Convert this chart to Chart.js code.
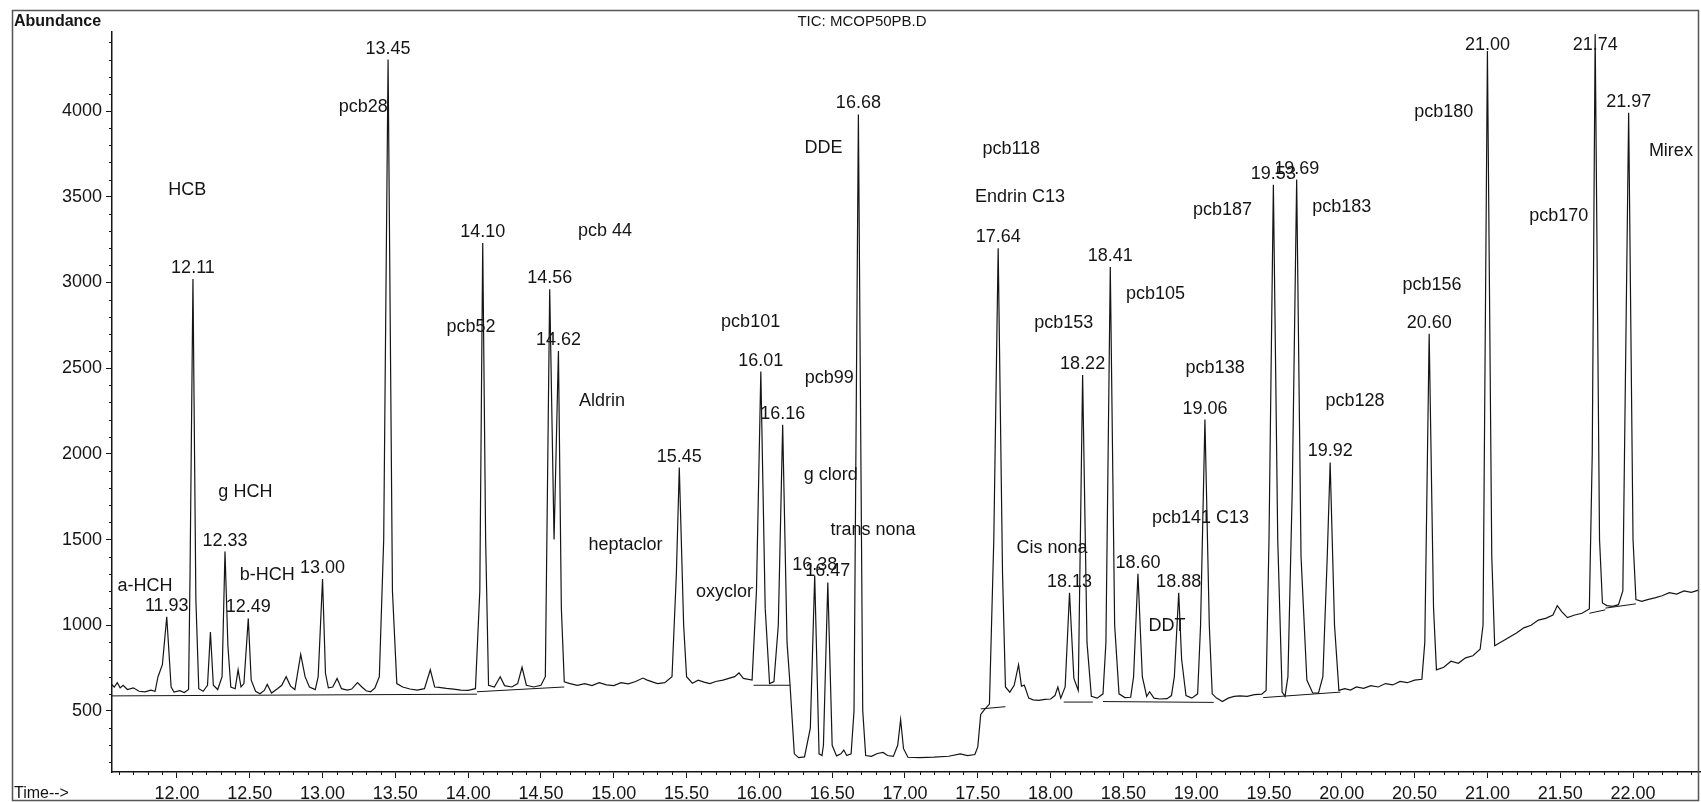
<!DOCTYPE html>
<html>
<head>
<meta charset="utf-8">
<script src="https://cdn.jsdelivr.net/npm/chart.js@4.4.1/dist/chart.umd.min.js"></script>
<style>
html, body { margin: 0; padding: 0; background: #fff; }
#wrap { width: 1701px; height: 802px; }
</style>
</head>
<body>
<div id="wrap"><canvas id="tic"></canvas></div>
<script>
// retention time (min) and abundance of the TIC trace
const times = [
  11.55,11.57,11.59,11.61,11.63,11.66,11.70,11.74,11.78,11.82,
  11.85,11.87,11.90,11.93,11.96,11.98,12.02,12.05,12.08,12.09,
  12.11,12.13,12.15,12.18,12.21,12.23,12.25,12.28,12.31,12.33,
  12.35,12.37,12.40,12.42,12.44,12.46,12.49,12.51,12.54,12.57,
  12.60,12.62,12.65,12.69,12.72,12.75,12.78,12.81,12.85,12.88,
  12.91,12.95,12.97,13.00,13.02,13.04,13.07,13.10,13.13,13.17,
  13.20,13.24,13.27,13.30,13.33,13.36,13.39,13.42,13.45,13.48,
  13.51,13.55,13.60,13.65,13.70,13.74,13.77,13.80,13.85,13.90,
  13.95,14.00,14.05,14.08,14.10,14.12,14.14,14.18,14.22,14.25,
  14.30,14.34,14.37,14.40,14.45,14.50,14.53,14.56,14.59,14.62,
  14.64,14.66,14.70,14.75,14.80,14.85,14.90,14.95,15.00,15.05,
  15.10,15.15,15.20,15.23,15.27,15.30,15.35,15.40,15.43,15.45,
  15.48,15.50,15.54,15.58,15.62,15.66,15.70,15.75,15.79,15.83,
  15.86,15.89,15.95,15.98,16.01,16.04,16.07,16.10,16.13,16.16,
  16.19,16.21,16.24,16.27,16.31,16.35,16.38,16.41,16.43,16.44,
  16.47,16.50,16.53,16.56,16.58,16.60,16.63,16.65,16.68,16.71,
  16.73,16.77,16.81,16.85,16.88,16.92,16.95,16.97,16.99,17.02,
  17.10,17.20,17.30,17.38,17.43,17.48,17.50,17.52,17.55,17.58,
  17.61,17.64,17.67,17.69,17.72,17.75,17.78,17.80,17.82,17.85,
  17.88,17.92,17.96,18.00,18.03,18.05,18.07,18.10,18.13,18.16,
  18.19,18.22,18.25,18.28,18.32,18.36,18.38,18.41,18.44,18.47,
  18.51,18.55,18.57,18.60,18.63,18.66,18.68,18.71,18.75,18.80,
  18.83,18.85,18.88,18.90,18.93,18.97,19.01,19.03,19.06,19.09,
  19.11,19.14,19.18,19.22,19.26,19.30,19.35,19.40,19.45,19.48,
  19.50,19.53,19.56,19.59,19.61,19.63,19.66,19.69,19.72,19.76,
  19.80,19.84,19.87,19.90,19.92,19.95,19.98,20.02,20.06,20.10,
  20.15,20.20,20.25,20.30,20.35,20.40,20.45,20.50,20.55,20.57,
  20.60,20.63,20.65,20.70,20.75,20.80,20.85,20.90,20.95,20.97,
  21.00,21.03,21.05,21.10,21.15,21.20,21.25,21.30,21.35,21.40,
  21.45,21.48,21.51,21.55,21.60,21.65,21.70,21.72,21.74,21.77,
  21.79,21.82,21.86,21.90,21.93,21.97,22.00,22.02,22.06,22.10,
  22.15,22.20,22.25,22.30,22.35,22.40,22.45
];
const abundance = [
  655,640,665,635,650,625,635,615,612,622,
  615,700,770,1050,640,610,618,608,625,1300,
  3020,1150,630,615,650,960,650,625,700,1430,
  880,640,630,740,640,660,1040,680,615,600,
  620,655,605,630,650,700,645,625,830,700,
  640,625,700,1270,720,635,640,690,630,622,
  628,665,640,618,612,635,700,1500,4300,1200,
  660,640,628,622,630,740,640,638,632,628,
  622,620,630,1200,3230,1500,650,640,700,648,
  640,660,755,650,640,650,700,2960,1500,2600,
  1100,670,660,650,660,648,665,652,648,665,
  658,672,692,680,668,660,665,700,1300,1920,
  1000,700,662,680,668,660,672,680,690,700,
  722,690,680,1200,2480,1100,660,672,1000,2170,
  900,660,250,228,232,400,1290,250,240,300,
  1250,300,238,250,272,240,250,500,3980,500,
  240,235,252,258,240,235,300,450,280,230,
  228,231,236,250,240,246,290,480,512,540,
  1500,3200,1300,640,610,650,770,645,650,575,
  565,562,568,570,590,640,575,640,1190,690,
  620,2460,900,585,575,600,900,3090,1000,600,
  578,580,700,1300,700,585,612,575,570,572,
  590,700,1190,800,590,575,600,1000,2200,1000,
  600,575,555,575,585,588,585,595,598,620,
  1500,3570,1500,610,585,700,1800,3600,1400,680,
  605,605,700,1400,1950,1000,620,630,622,640,
  632,648,640,660,652,672,665,680,685,900,
  2700,1100,740,755,790,778,810,822,860,1000,
  4350,1400,880,905,930,955,985,1000,1030,1040,
  1060,1115,1080,1045,1060,1070,1095,2000,4450,1500,
  1130,1115,1110,1120,1200,3990,1500,1150,1140,1150,
  1160,1172,1190,1182,1200,1192,1205
];

// integrator baselines: [start time, start level, end time, end level]
const baselineSegments = [
  [11.55, 588, 14.06, 598],
  [14.06, 612, 14.66, 640],
  [15.96, 650, 16.21, 650],
  [17.52, 512, 17.69, 525],
  [18.09, 552, 18.29, 552],
  [18.36, 555, 19.12, 550],
  [19.46, 578, 19.99, 610],
  [21.70, 1070, 21.81, 1090],
  [21.81, 1100, 22.02, 1125]
];

// labelled retention times
const peakTimes = [11.93, 12.11, 12.33, 12.49, 13.00, 13.45, 14.10, 14.56, 14.62, 15.45,
  16.01, 16.16, 16.38, 16.47, 16.68, 17.64, 18.13, 18.22, 18.41, 18.60,
  18.88, 19.06, 19.53, 19.69, 19.92, 20.60, 21.00, 21.74, 21.97];

// compound names and where they sit on the plot (time, abundance)
const compoundNames = ['a-HCH', 'HCB', 'g HCH', 'b-HCH', 'pcb28', 'pcb52', 'pcb 44', 'Aldrin', 'heptaclor', 'oxyclor',
  'pcb101', 'pcb99', 'DDE', 'g clord', 'trans nona', 'pcb118', 'Endrin C13', 'Cis nona', 'pcb153', 'pcb105',
  'pcb138', 'pcb141 C13', 'DDT', 'pcb187', 'pcb183', 'pcb128', 'pcb156', 'pcb180', 'pcb170', 'Mirex'];
const nameTimes = [11.78, 12.07, 12.47, 12.62, 13.28, 14.02, 14.94, 14.92, 15.08, 15.76,
  15.94, 16.48, 16.44, 16.49, 16.78, 17.73, 17.79, 18.01, 18.09, 18.72,
  19.13, 19.03, 18.80, 19.18, 20.00, 20.09, 20.62, 20.70, 21.49, 22.26];
const nameLevels = [1230, 3540, 1778, 1294, 4025, 2742, 3300, 2306, 1470, 1192,
  2770, 2443, 3785, 1876, 1553, 3779, 3499, 1452, 2763, 2934,
  2503, 1623, 997, 3420, 3440, 2306, 2984, 3997, 3389, 3769];

const xTickLabels = ['12.00', '12.50', '13.00', '13.50', '14.00', '14.50', '15.00', '15.50', '16.00', '16.50', '17.00',
  '17.50', '18.00', '18.50', '19.00', '19.50', '20.00', '20.50', '21.00', '21.50', '22.00'];
const yTickLabels = [500, 1000, 1500, 2000, 2500, 3000, 3500, 4000];

const FONT = '"Liberation Sans", Arial, sans-serif';
const INK = '#151515';

const baselineData = [];
baselineSegments.forEach(s => {
  baselineData.push({x: s[0], y: s[1]}, {x: s[2], y: s[3]}, {x: s[2], y: null});
});

const decorations = {
  id: 'decorations',
  afterDraw(chart) {
    const {ctx, chartArea, scales: {x, y}} = chart;
    ctx.save();
    // outer frame
    ctx.strokeStyle = '#555';
    ctx.lineWidth = 1.5;
    ctx.strokeRect(12.5, 10.5, 1686, 790);

    // minor ticks
    ctx.strokeStyle = INK;
    ctx.lineWidth = 1;
    ctx.beginPath();
    for (let k = 116; k <= 224; k++) {
      if (k % 5 === 0) continue;
      const px = Math.round(x.getPixelForValue(k / 10)) + 0.5;
      ctx.moveTo(px, chartArea.bottom);
      ctx.lineTo(px, chartArea.bottom + 3);
    }
    for (let k = 2; k <= 44; k++) {
      if (k % 5 === 0) continue;
      const py = Math.round(y.getPixelForValue(k * 100)) + 0.5;
      ctx.moveTo(chartArea.left - 3, py);
      ctx.lineTo(chartArea.left, py);
    }
    ctx.stroke();

    ctx.fillStyle = INK;
    // retention time labels above each apex
    ctx.font = '18px ' + FONT;
    ctx.textAlign = 'center';
    ctx.textBaseline = 'alphabetic';
    peakTimes.forEach(t => {
      const i = times.indexOf(t);
      const px = x.getPixelForValue(t);
      const py = Math.max(y.getPixelForValue(abundance[i]) - 6, chartArea.top + 18);
      ctx.fillText(t.toFixed(2), px, py);
    });

    // compound names
    ctx.textBaseline = 'middle';
    compoundNames.forEach((n, i) => {
      ctx.fillText(n, x.getPixelForValue(nameTimes[i]), y.getPixelForValue(nameLevels[i]));
    });

    // title and axis captions
    ctx.font = '15px ' + FONT;
    ctx.fillText('TIC: MCOP50PB.D', 862, 22);
    ctx.textAlign = 'left';
    ctx.font = 'bold 16px ' + FONT;
    ctx.fillText('Abundance', 14, 22);
    ctx.font = '16px ' + FONT;
    ctx.fillText('Time-->', 14, 794);
    ctx.restore();
  }
};

new Chart(document.getElementById('tic'), {
  type: 'line',
  data: {
    datasets: [{
      label: 'TIC',
      data: times.map((t, i) => ({x: t, y: abundance[i]})),
      borderColor: INK,
      borderWidth: 1.2,
      pointRadius: 0,
      tension: 0
    }, {
      label: 'baseline',
      data: baselineData,
      borderColor: INK,
      borderWidth: 1,
      pointRadius: 0,
      spanGaps: false,
      tension: 0
    }]
  },
  options: {
    responsive: true,
    maintainAspectRatio: false,
    animation: false,
    layout: {padding: {top: 32, right: 1, left: 0, bottom: 0}},
    plugins: {legend: {display: false}, tooltip: {enabled: false}, title: {display: false}},
    scales: {
      x: {
        type: 'linear',
        min: 11.554,
        max: 22.46,
        afterFit: s => { s.height = 30; },
        afterBuildTicks: s => { s.ticks = xTickLabels.map(v => ({value: parseFloat(v)})); },
        ticks: {
          autoSkip: false,
          maxRotation: 0,
          padding: 5,
          color: INK,
          font: {family: FONT, size: 18},
          callback: v => v.toFixed(2)
        },
        grid: {drawOnChartArea: false, drawTicks: true, tickLength: 6, color: INK},
        border: {display: true, color: INK, width: 1.5}
      },
      y: {
        min: 144,
        max: 4461,
        afterFit: s => { s.width = 112; },
        afterBuildTicks: s => { s.ticks = yTickLabels.map(v => ({value: v})); },
        ticks: {
          autoSkip: false,
          padding: 4,
          color: INK,
          font: {family: FONT, size: 18},
          callback: v => String(v)
        },
        grid: {drawOnChartArea: false, drawTicks: true, tickLength: 6, color: INK},
        border: {display: true, color: INK, width: 1.5}
      }
    }
  },
  plugins: [decorations]
});
</script>
</body>
</html>
